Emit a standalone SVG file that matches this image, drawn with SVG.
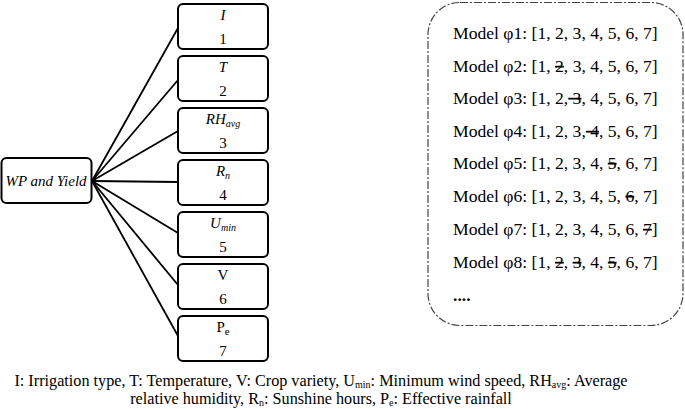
<svg xmlns="http://www.w3.org/2000/svg" width="685" height="409" viewBox="0 0 685 409">
<style>
.box{fill:#fff;stroke:#000;stroke-width:2}
text{font-family:"Liberation Serif","Times New Roman","DejaVu Serif",serif;fill:#000}
.lbl{font-size:15px;text-anchor:middle}
.it{font-style:italic}
.conn line{stroke:#000;stroke-width:1.8}
.model{font-size:17.6px}
.s{text-decoration:line-through}
.cap{font-size:16.2px;text-anchor:middle}
</style>
<rect width="685" height="409" fill="#fff"/>
<g id="connectors" class="conn">
<line x1="92" y1="181" x2="178" y2="28"/>
<line x1="92" y1="181" x2="178" y2="80"/>
<line x1="92" y1="181" x2="178" y2="131"/>
<line x1="92" y1="181" x2="178" y2="182"/>
<line x1="92" y1="181" x2="178" y2="233"/>
<line x1="92" y1="181" x2="178" y2="285"/>
<line x1="92" y1="181" x2="178" y2="336"/>
</g>
<g id="root">
<rect class="box" x="1.5" y="158" width="90" height="45" rx="5"/>
<text class="lbl it" x="46" y="186" font-size="16">WP and Yield</text>
</g>
<g id="n1">
<rect class="box" x="178" y="4" width="90" height="45" rx="5"/>
<text class="lbl it" x="223" y="20">I</text>
<text class="lbl" x="223" y="44">1</text>
</g>
<g id="n2">
<rect class="box" x="178" y="56" width="90" height="45" rx="5"/>
<text class="lbl it" x="223" y="72">T</text>
<text class="lbl" x="223" y="96">2</text>
</g>
<g id="n3">
<rect class="box" x="178" y="108" width="90" height="45" rx="5"/>
<text class="lbl it" x="223" y="124">RH<tspan font-size="10" dy="3">avg</tspan></text>
<text class="lbl" x="223" y="148">3</text>
</g>
<g id="n4">
<rect class="box" x="178" y="160" width="90" height="45" rx="5"/>
<text class="lbl it" x="223" y="176">R<tspan font-size="10" dy="3">n</tspan></text>
<text class="lbl" x="223" y="200">4</text>
</g>
<g id="n5">
<rect class="box" x="178" y="212" width="90" height="45" rx="5"/>
<text class="lbl it" x="223" y="228">U<tspan font-size="10" dy="3">min</tspan></text>
<text class="lbl" x="223" y="252">5</text>
</g>
<g id="n6">
<rect class="box" x="178" y="264" width="90" height="45" rx="5"/>
<text class="lbl" x="223" y="280">V</text>
<text class="lbl" x="223" y="304">6</text>
</g>
<g id="n7">
<rect class="box" x="178" y="316" width="90" height="45" rx="5"/>
<text class="lbl" x="223" y="332">P<tspan font-size="11" dy="3">e</tspan></text>
<text class="lbl" x="223" y="356">7</text>
</g>
<g id="models">
<rect x="428" y="2.5" width="255" height="323" rx="32" fill="none" stroke="#444" stroke-width="1.2" stroke-dasharray="8,2,2,2"/>
<text class="model" x="453" y="39">Model φ1: [1, 2, 3, 4, 5, 6, 7]</text>
<text class="model" x="453" y="72">Model φ2: [1, <tspan class="s">2</tspan>, 3, 4, 5, 6, 7]</text>
<text class="model" x="453" y="104">Model φ3: [1, 2,<tspan class="s"> 3</tspan>, 4, 5, 6, 7]</text>
<text class="model" x="453" y="137">Model φ4: [1, 2, 3,<tspan class="s"> 4</tspan>, 5, 6, 7]</text>
<text class="model" x="453" y="169">Model φ5: [1, 2, 3, 4, <tspan class="s">5</tspan>, 6, 7]</text>
<text class="model" x="453" y="202">Model φ6: [1, 2, 3, 4, 5, <tspan class="s">6</tspan>, 7]</text>
<text class="model" x="453" y="235">Model φ7: [1, 2, 3, 4, 5, 6, <tspan class="s">7</tspan>]</text>
<text class="model" x="453" y="268">Model φ8: [1, <tspan class="s">2</tspan>, <tspan class="s">3</tspan>, 4, <tspan class="s">5</tspan>, 6, 7]</text>
<text class="model" x="453" y="301" font-weight="bold">....</text>
</g>
<g id="caption">
<text class="cap" x="321" y="386">I: Irrigation type, T: Temperature, V: Crop variety, U<tspan font-size="10" dy="2">min</tspan><tspan dy="-2">: Minimum wind speed, RH</tspan><tspan font-size="10" dy="2">avg</tspan><tspan dy="-2">: Average</tspan></text>
<text class="cap" x="321" y="404">relative humidity, R<tspan font-size="10" dy="2">n</tspan><tspan dy="-2">: Sunshine hours, P</tspan><tspan font-size="10" dy="2">e</tspan><tspan dy="-2">: Effective rainfall</tspan></text>
</g>
</svg>
